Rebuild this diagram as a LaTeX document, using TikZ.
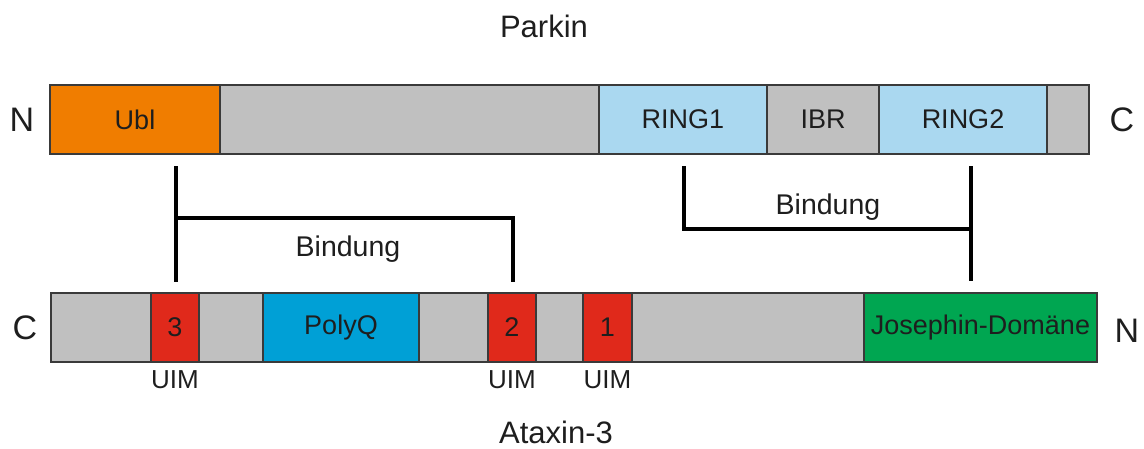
\documentclass[tikz,border=0pt]{standalone}
\usepackage{fontspec}
\setmainfont{Liberation Sans}
\definecolor{cOrange}{HTML}{F07D00}
\definecolor{cGrey}{HTML}{C0C0C0}
\definecolor{cLight}{HTML}{AAD8F0}
\definecolor{cBlue}{HTML}{00A0D6}
\definecolor{cRed}{HTML}{E0291B}
\definecolor{cGreen}{HTML}{00A651}
\definecolor{cEdge}{HTML}{3A3A3A}
\definecolor{cText}{HTML}{1E1E1E}
\tikzset{
  seg/.style={draw=cEdge, line width=1.4pt, inner sep=0pt, minimum height=69pt, text=cText, font=\fontsize{27}{31}\selectfont},
  lbl/.style={inner sep=0pt, text=cText, anchor=base, font=\fontsize{26}{30}\selectfont},
  titlelbl/.style={inner sep=0pt, text=cText, anchor=base, font=\fontsize{31}{35}\selectfont},
  bindlbl/.style={inner sep=0pt, text=cText, anchor=base, font=\fontsize{28.5}{32}\selectfont},
  endlbl/.style={inner sep=0pt, text=cText, font=\fontsize{34}{38}\selectfont},
  bind/.style={line width=4pt, black}
}
\begin{document}
\begin{tikzpicture}[x=1pt,y=-1pt]
\useasboundingbox (0,0) rectangle (1144,448);
% Parkin
\node[titlelbl] (ptitle) at (544,37) {Parkin};
\node[seg, fill=cOrange, minimum width=170pt] (ubl) at (135,119.5) {Ubl};
\node[seg, fill=cGrey, minimum width=379pt] (pg1) at (409.5,119.5) {};
\node[seg, fill=cLight, minimum width=168pt] (ring1) at (683,119.5) {RING1};
\node[seg, fill=cGrey, minimum width=112pt] (ibr) at (823,119.5) {IBR};
\node[seg, fill=cLight, minimum width=168pt] (ring2) at (963,119.5) {RING2};
\node[seg, fill=cGrey, minimum width=42pt] (pg2) at (1068,119.5) {};
\node[endlbl] (pN) at (22,120) {N};
\node[endlbl] (pC) at (1122,120) {C};
% Ataxin-3
\node[seg, fill=cGrey, minimum width=100pt] (ag1) at (101,327.5) {};
\node[seg, fill=cRed, minimum width=48pt] (uim3) at (175,327.5) {3};
\node[seg, fill=cGrey, minimum width=64pt] (ag2) at (231,327.5) {};
\node[seg, fill=cBlue, minimum width=156pt] (polyq) at (341,327.5) {PolyQ};
\node[seg, fill=cGrey, minimum width=69pt] (ag3) at (453.5,327.5) {};
\node[seg, fill=cRed, minimum width=48pt] (uim2) at (512,327.5) {2};
\node[seg, fill=cGrey, minimum width=47pt] (ag4) at (559.5,327.5) {};
\node[seg, fill=cRed, minimum width=49pt] (uim1) at (607.5,327.5) {1};
\node[seg, fill=cGrey, minimum width=232pt] (ag5) at (748,327.5) {};
\node[seg, fill=cGreen, minimum width=233pt] (jos) at (980.5,327.5) {Josephin-Domäne};
\node[endlbl] (aC) at (25,328) {C};
\node[endlbl] (aN) at (1127,331) {N};
\node[lbl] (u3) at (175,388) {UIM};
\node[lbl] (u2) at (512,388) {UIM};
\node[lbl] (u1) at (607.5,388) {UIM};
\node[titlelbl] (atitle) at (556,443) {Ataxin-3};
% Bindung left
\coordinate (l1) at (176,166);
\coordinate (l2) at (176,282);
\coordinate (l3) at (176,218);
\coordinate (l4) at (513,218);
\coordinate (l5) at (513,282);
\draw[bind] (l1) -- (l2);
\draw[bind] (l3) -- (l4) -- (l5);
\node[bindlbl] (b1) at (348,256) {Bindung};
% Bindung right
\coordinate (r1) at (684,166);
\coordinate (r2) at (684,229);
\coordinate (r3) at (971,229);
\coordinate (r4) at (971,166);
\coordinate (r5) at (971,281);
\draw[bind] (r1) -- (r2) -- (r3);
\draw[bind] (r4) -- (r5);
\node[bindlbl] (b2) at (828,214) {Bindung};
\end{tikzpicture}
\end{document}
